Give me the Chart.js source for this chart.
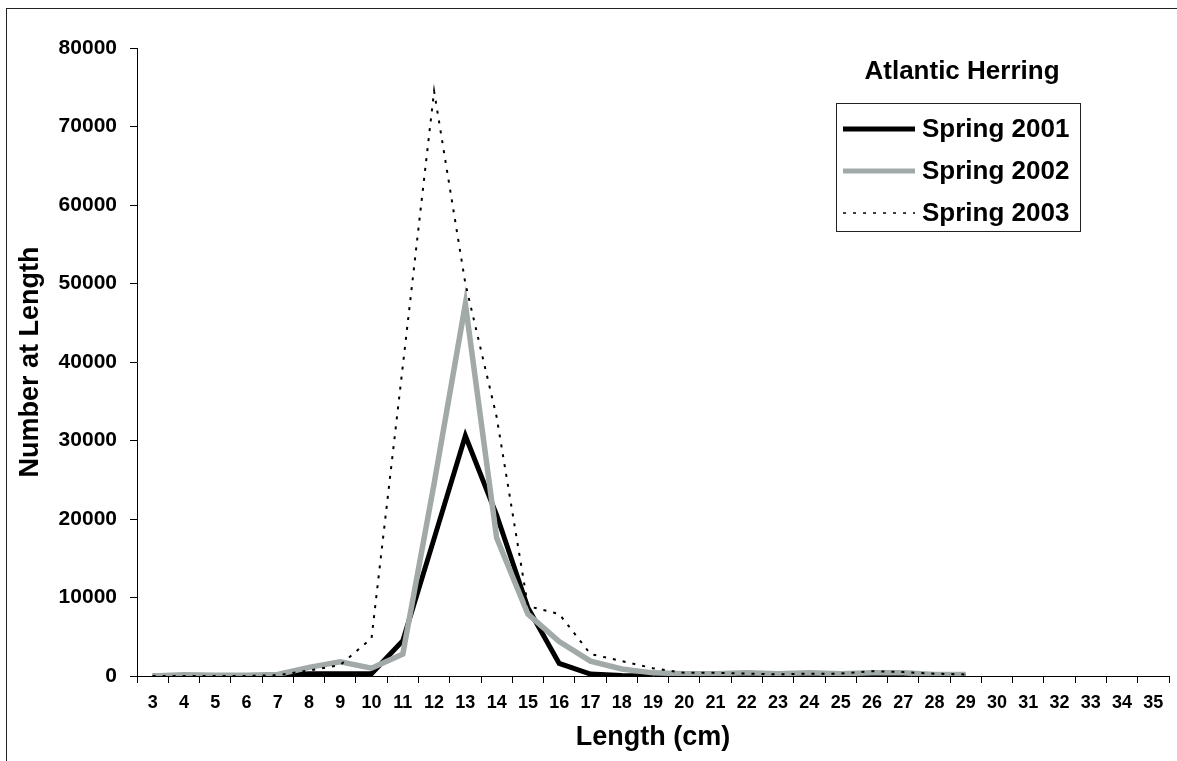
<!DOCTYPE html>
<html>
<head>
<meta charset="utf-8">
<script src="https://cdn.jsdelivr.net/npm/chart.js@4.4.1/dist/chart.umd.min.js"></script>
<style>
  html, body { margin: 0; padding: 0; background: #fff; overflow: hidden; }
  #wrap { position: relative; width: 1177px; height: 761px; }
  #frame { position: absolute; left: 6px; top: 8px; width: 1300px; height: 900px; border: 1px solid #222; }
  #chart1 { position: absolute; left: 0; top: 0; }
</style>
</head>
<body>
<div id="wrap">
  <div id="frame"></div>
  <canvas id="chart1" width="1177" height="761"></canvas>
</div>
<script>
var ctx1 = document.getElementById('chart1').getContext('2d');

// length classes (cm)
var lengths = [3, 4, 5, 6, 7, 8, 9, 10, 11, 12, 13, 14, 15, 16, 17, 18, 19, 20, 21, 22, 23, 24, 25, 26, 27, 28, 29, 30, 31, 32, 33, 34, 35];

// number at length, 3..29 cm
var spring2001 = [0, 0, 0, 0, 0, 300, 300, 300, 4500, 17500, 30600, 20500, 8700, 1600, 250, 50, 0, 0, 0, 0, 0, 0, 0, 0, 0, 0, 0];
var spring2002 = [0, 150, 100, 100, 200, 1100, 1800, 1000, 2800, 24500, 47400, 17600, 7900, 4400, 1900, 900, 400, 300, 300, 400, 300, 400, 300, 400, 400, 200, 200];
var spring2003 = [0, 0, 0, 0, 100, 700, 1400, 4800, 39500, 74500, 50000, 33000, 8900, 7900, 2800, 1900, 1000, 400, 400, 300, 200, 300, 300, 600, 500, 300, 200];

var yTicks = [0, 10000, 20000, 30000, 40000, 50000, 60000, 70000, 80000];

var chartTitle = 'Atlantic Herring';
var fontFamily = '"Liberation Sans", Arial, Helvetica, sans-serif';

var legendBox = {
    id: 'legendBox',
    afterDraw: function (chart) {
        var c = chart.ctx;
        c.save();
        c.strokeStyle = '#222';
        c.lineWidth = 1;
        c.strokeRect(836.5, 103.5, 244, 128);

        c.fillStyle = '#000';
        c.textBaseline = 'middle';
        c.textAlign = 'center';
        c.font = 'bold 26px ' + fontFamily;
        c.fillText(chartTitle, 962, 72);

        c.textAlign = 'left';
        c.font = 'bold 26px ' + fontFamily;
        chart.data.datasets.forEach(function (ds, i) {
            var y = 129 + i * 42;
            c.strokeStyle = ds.borderColor;
            c.lineWidth = ds.legendWidth;
            c.setLineDash(ds.borderDash || []);
            c.beginPath();
            c.moveTo(843, y);
            c.lineTo(915, y);
            c.stroke();
            c.setLineDash([]);
            c.fillText(ds.label, 922, y + 1);
        });
        c.restore();
    }
};

var chart = new Chart(ctx1, {
    type: 'line',
    data: {
        labels: lengths,
        datasets: [
            {
                label: 'Spring 2001',
                data: spring2001,
                borderColor: '#000000',
                backgroundColor: '#000000',
                borderWidth: 5,
                legendWidth: 5,
                order: 3
            },
            {
                label: 'Spring 2002',
                data: spring2002,
                borderColor: '#a2a9a9',
                backgroundColor: '#a2a9a9',
                borderWidth: 5.5,
                legendWidth: 5,
                order: 2
            },
            {
                label: 'Spring 2003',
                data: spring2003,
                borderColor: '#000000',
                backgroundColor: '#000000',
                borderWidth: 2,
                legendWidth: 1.5,
                borderDash: [3, 7],
                order: 1
            }
        ]
    },
    options: {
        responsive: false,
        animation: false,
        devicePixelRatio: 1,
        layout: { padding: { left: 0, top: 48, right: 8, bottom: 0 } },
        elements: {
            point: { radius: 0, hoverRadius: 0 },
            line: { tension: 0, fill: false }
        },
        plugins: {
            legend: { display: false },
            tooltip: { enabled: false }
        },
        scales: {
            x: {
                type: 'category',
                offset: true,
                afterFit: function (scale) { scale.height = 85; },
                grid: {
                    offset: true,
                    drawOnChartArea: false,
                    drawTicks: true,
                    tickLength: 7,
                    color: '#000'
                },
                border: { display: true, color: '#000', width: 1 },
                ticks: {
                    color: '#000',
                    padding: 9,
                    maxRotation: 0,
                    autoSkip: false,
                    font: { family: fontFamily, size: 18, weight: 'bold' }
                },
                title: {
                    display: true,
                    text: 'Length (cm)',
                    color: '#000',
                    padding: { top: 0, bottom: 7 },
                    font: { family: fontFamily, size: 27, weight: 'bold' }
                }
            },
            y: {
                min: 0,
                max: 80000,
                afterFit: function (scale) { scale.width = 137; },
                afterBuildTicks: function (scale) {
                    scale.ticks = yTicks.map(function (v) { return { value: v }; });
                },
                grid: {
                    drawOnChartArea: false,
                    drawTicks: true,
                    tickLength: 7,
                    color: '#000'
                },
                border: { display: true, color: '#000', width: 1 },
                ticks: {
                    color: '#000',
                    padding: 13,
                    font: { family: fontFamily, size: 21, weight: 'bold' },
                    callback: function (v) { return String(v); }
                },
                title: {
                    display: true,
                    text: 'Number at Length',
                    color: '#000',
                    padding: { top: 14, bottom: 0 },
                    font: { family: fontFamily, size: 27, weight: 'bold' }
                }
            }
        }
    },
    plugins: [legendBox]
});
</script>
</body>
</html>
